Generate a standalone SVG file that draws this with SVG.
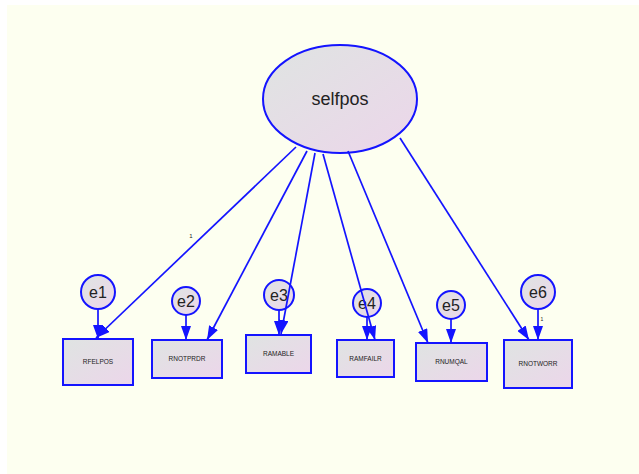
<svg xmlns="http://www.w3.org/2000/svg" width="639" height="474" viewBox="0 0 639 474">
<defs>
<linearGradient id="g" x1="0" y1="0" x2="1" y2="1">
<stop offset="0" stop-color="#dfe4e2"/>
<stop offset="1" stop-color="#ecd6ea"/>
</linearGradient>
<marker id="ah" viewBox="0 0 14 10" refX="14" refY="5" markerWidth="14" markerHeight="10" markerUnits="userSpaceOnUse" orient="auto">
<path d="M0,0 L14,5 L0,10 Z" fill="#1414ff"/>
</marker>
<style>
.n{fill:url(#g);stroke:#1414ff;stroke-width:2}
.c{stroke:#1414ff;stroke-width:1.7;fill:none;marker-end:url(#ah)}
.t{font-family:"Liberation Sans",Arial,sans-serif;fill:#222;text-anchor:middle}
.bt{font-size:6.5px}
.et{font-size:16px}
</style>
</defs>
<rect x="7" y="5" width="632" height="469" fill="#fdfff0"/>
<g id="selfpos">
<ellipse class="n" cx="340" cy="99" rx="77" ry="54"/>
<text class="t" x="340" y="105" font-size="18">selfpos</text>
</g>
<g id="e1"><circle class="n" cx="98" cy="292" r="17"/><text class="t et" x="98" y="298" font-size="17">e1</text></g>
<g id="e2"><circle class="n" cx="186" cy="301" r="14"/><text class="t et" x="186" y="307">e2</text></g>
<g id="e3"><circle class="n" cx="279" cy="295" r="15"/><text class="t et" x="279" y="301">e3</text></g>
<g id="e4"><circle class="n" cx="367" cy="303" r="14"/><text class="t et" x="367" y="309">e4</text></g>
<g id="e5"><circle class="n" cx="451" cy="305" r="14"/><text class="t et" x="451" y="311">e5</text></g>
<g id="e6"><circle class="n" cx="538" cy="292" r="17"/><text class="t et" x="538" y="298" font-size="17">e6</text></g>
<g id="RFELPOS"><rect class="n" x="63" y="339" width="70" height="46"/><text class="t bt" x="98" y="364">RFELPOS</text></g>
<g id="RNOTPRDR"><rect class="n" x="152" y="340" width="70" height="38"/><text class="t bt" x="187" y="361">RNOTPRDR</text></g>
<g id="RAMABLE"><rect class="n" x="246" y="335" width="65" height="38"/><text class="t bt" x="278.5" y="356">RAMABLE</text></g>
<g id="RAMFAILR"><rect class="n" x="337" y="340" width="57" height="37"/><text class="t bt" x="365.5" y="361">RAMFAILR</text></g>
<g id="RNUMQAL"><rect class="n" x="416" y="343" width="71" height="38"/><text class="t bt" x="451.5" y="364">RNUMQAL</text></g>
<g id="RNOTWORR"><rect class="n" x="504" y="340" width="68" height="48"/><text class="t bt" x="538" y="366">RNOTWORR</text></g>
<g id="connectors">
<line class="c" x1="296" y1="147" x2="96" y2="338"/>
<line class="c" x1="307" y1="151" x2="207" y2="340"/>
<line class="c" x1="315" y1="153" x2="281" y2="334"/>
<line class="c" x1="323" y1="154" x2="375" y2="340"/>
<line class="c" x1="348" y1="151" x2="428" y2="343"/>
<line class="c" x1="400" y1="138" x2="529" y2="340"/>
<line class="c" x1="98" y1="309" x2="98" y2="339"/>
<line class="c" x1="186" y1="315" x2="186" y2="340"/>
<line class="c" x1="279" y1="310" x2="279" y2="335"/>
<line class="c" x1="367" y1="317" x2="367" y2="340"/>
<line class="c" x1="451" y1="319" x2="451" y2="343"/>
<line class="c" x1="538" y1="309" x2="538" y2="340"/>
<text class="t" x="191" y="238" font-size="6">1</text>
<text class="t" x="542" y="321" font-size="5">1</text>
</g>
</svg>
